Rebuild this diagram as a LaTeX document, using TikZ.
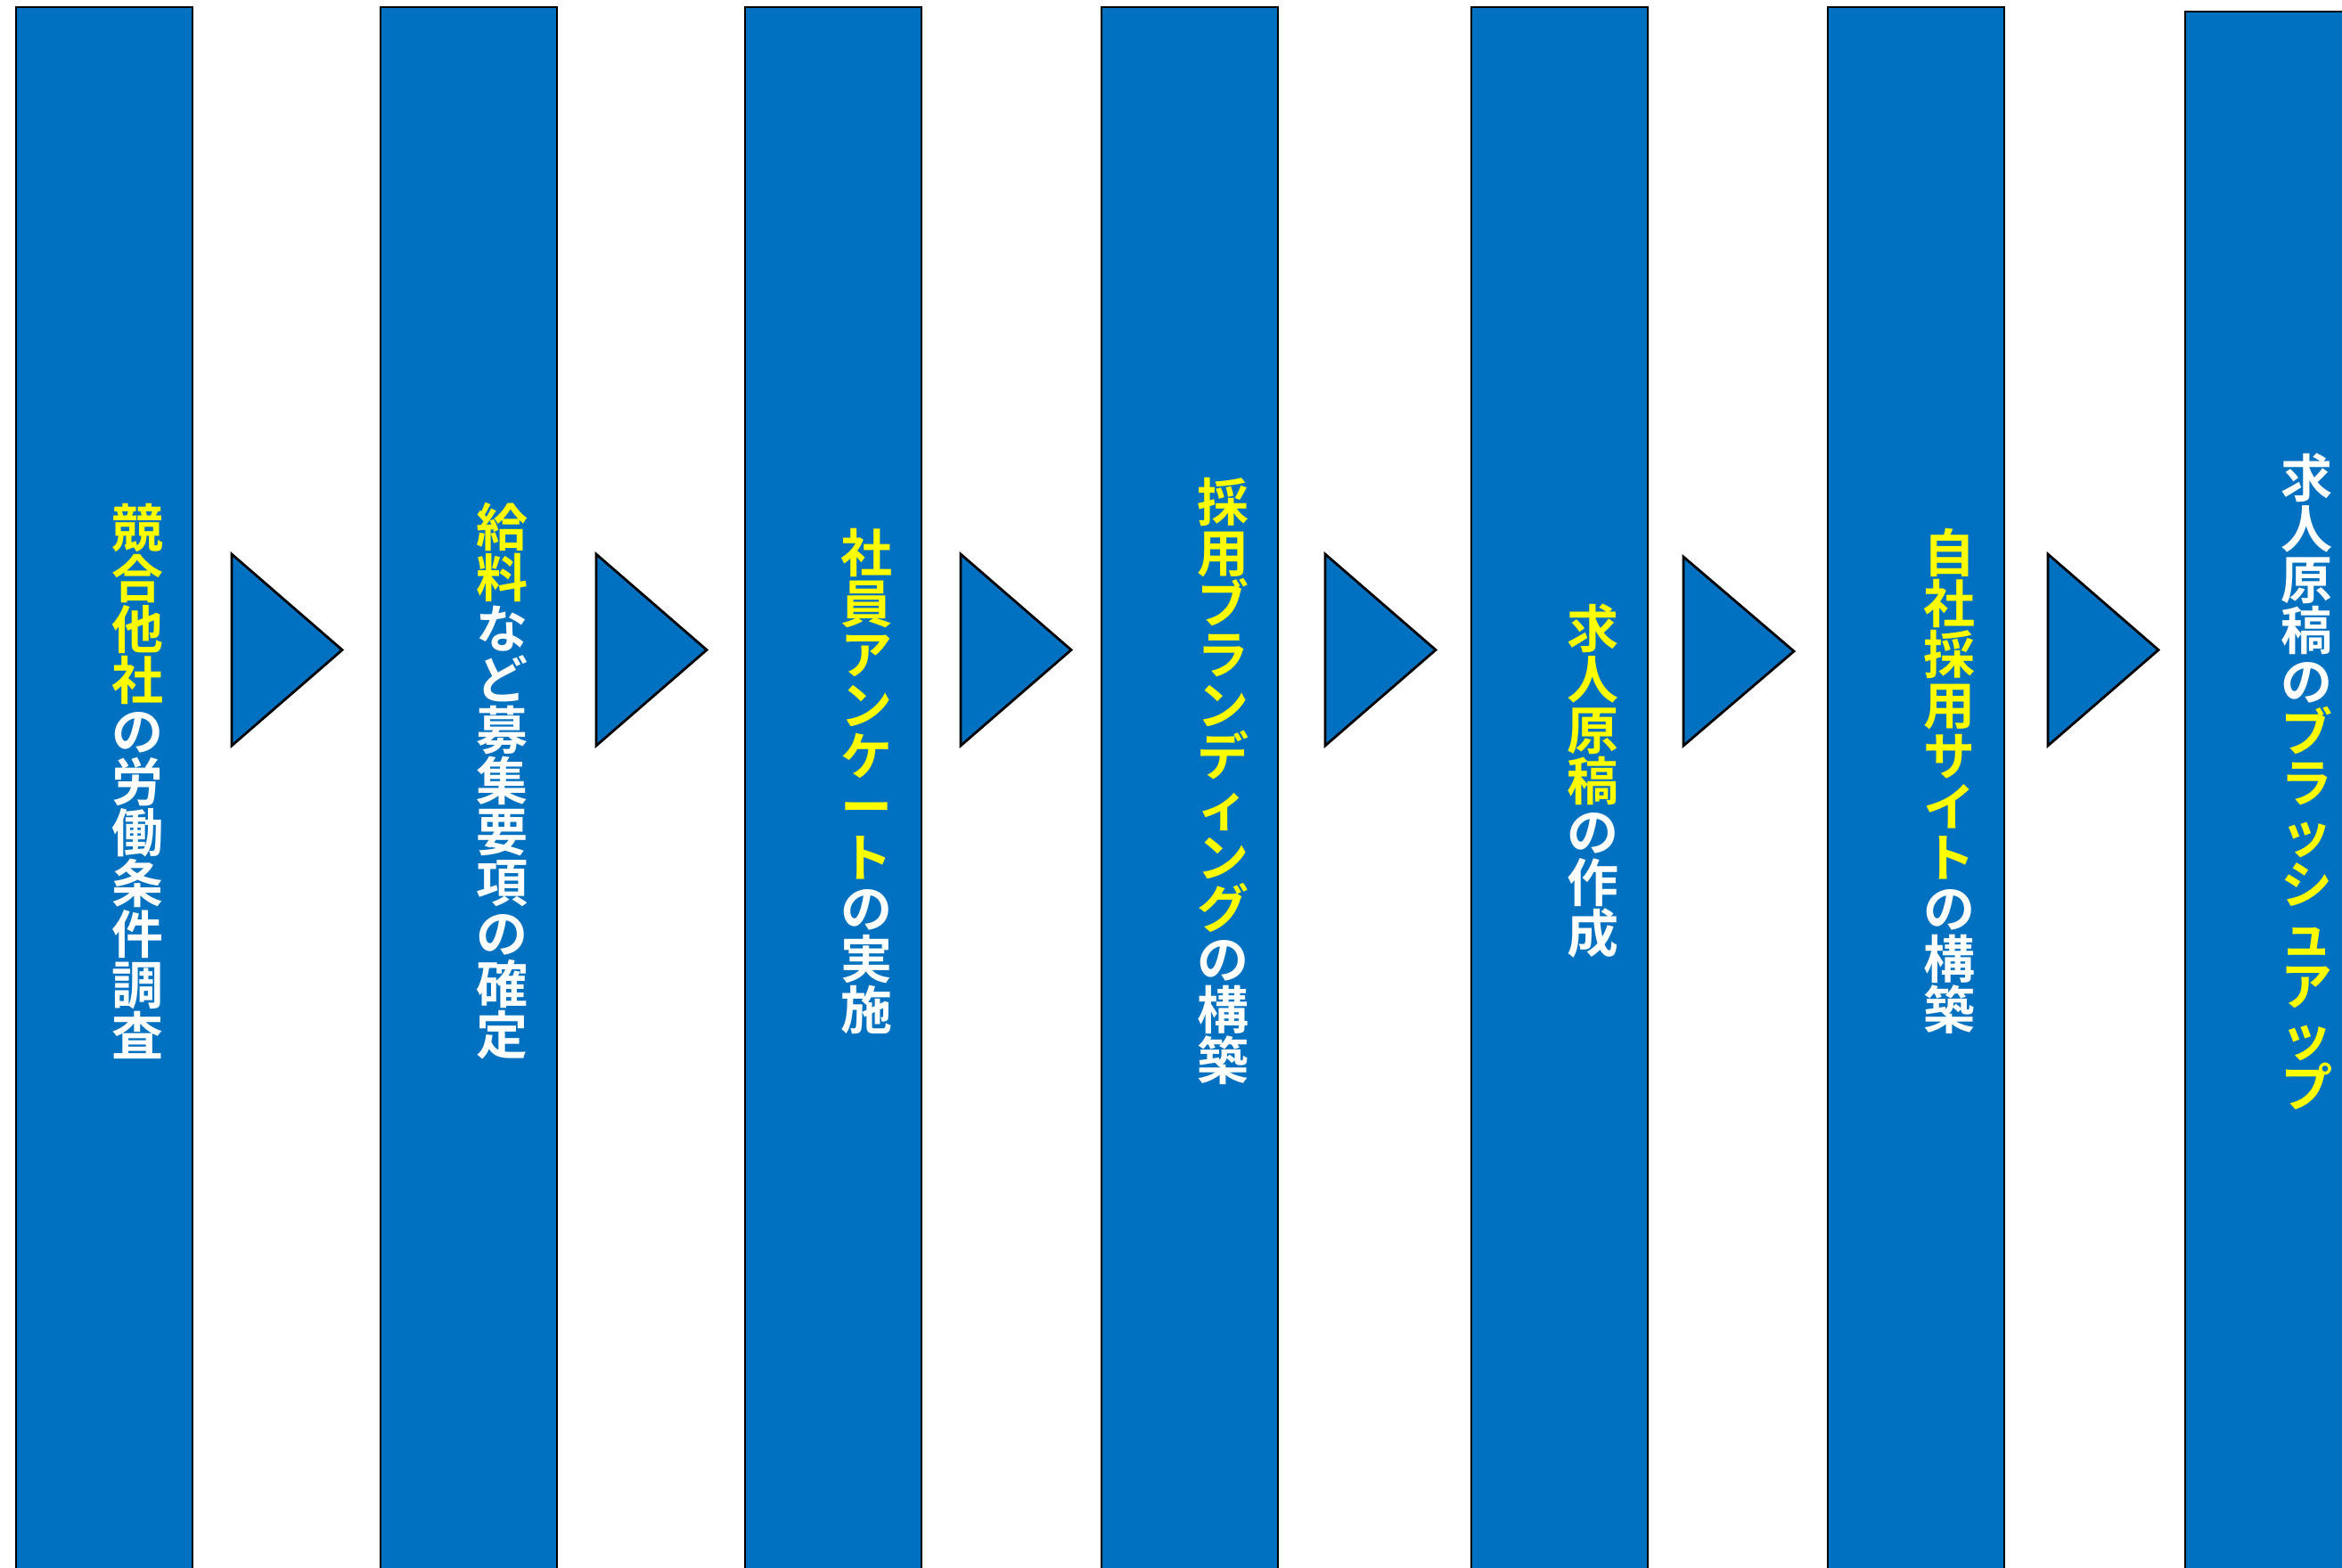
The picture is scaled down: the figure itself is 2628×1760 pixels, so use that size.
\documentclass[tikz,border=0pt]{standalone}
\usepackage{fontspec}
\newfontfamily\cjk{Noto Sans CJK JP}[BoldFont={Noto Sans CJK JP Bold}]
\definecolor{barblue}{HTML}{0070C0}
\definecolor{yel}{HTML}{FFFF00}
\newcommand\Y[1]{\textcolor{yel}{#1}}
\begin{document}
\begin{tikzpicture}[x=0.5pt,y=-0.5pt,
  bar/.style={draw=black, fill=barblue, line width=1.2pt, minimum width=99pt, minimum height=886pt, inner sep=0pt, rectangle},
  arr/.style={draw=black, fill=barblue, line width=1.4pt, line join=miter},
  lbl/.style={text=white, align=center, inner sep=0pt, font=\cjk\bfseries\fontsize{29}{28.5}\selectfont}]
\useasboundingbox (0,0) rectangle (2628,1760);
\clip (0,0) rectangle (2628,1760);
% bars
\node[bar] (b1) at (117,894) {};
\node[bar] (b2) at (526,894) {};
\node[bar] (b3) at (935,894) {};
\node[bar] (b4) at (1335,894) {};
\node[bar] (b5) at (1750,894) {};
\node[bar] (b6) at (2150,894) {};
\node[bar] (b7) at (2551,899) {};
% triangles
\foreach \x/\t in {260/622,669/622,1078/622,1487/622,1889/625,2298/622}{
  \draw[arr] (\x,\t) -- (\x+124,{(\t+837)/2}) -- (\x,837) -- cycle;
}
% labels
\node[lbl] (t1) at (154,877) {\Y{競}\\\Y{合}\\\Y{他}\\\Y{社}\\の\\労\\働\\条\\件\\調\\査};
\node[lbl] (t2) at (563,877) {\Y{給}\\\Y{料}\\な\\ど\\募\\集\\要\\項\\の\\確\\定};
\node[lbl] (t3) at (972,877) {\Y{社}\\\Y{員}\\\Y{ア}\\\Y{ン}\\\Y{ケ}\\\Y{ー}\\\Y{ト}\\の\\実\\施};
\node[lbl] (t4) at (1372,877) {\Y{採}\\\Y{用}\\\Y{ブ}\\\Y{ラ}\\\Y{ン}\\\Y{デ}\\\Y{ィ}\\\Y{ン}\\\Y{グ}\\の\\構\\築};
\node[lbl] (t5) at (1787,877) {\Y{求}\\\Y{人}\\\Y{原}\\\Y{稿}\\の\\作\\成};
\node[lbl] (t6) at (2187,877) {\Y{自}\\\Y{社}\\\Y{採}\\\Y{用}\\\Y{サ}\\\Y{イ}\\\Y{ト}\\の\\構\\築};
\node[lbl] (t7) at (2588,877) {求\\人\\原\\稿\\の\\\Y{ブ}\\\Y{ラ}\\\Y{ッ}\\\Y{シ}\\\Y{ュ}\\\Y{ア}\\\Y{ッ}\\\Y{プ}};
\end{tikzpicture}
\end{document}
